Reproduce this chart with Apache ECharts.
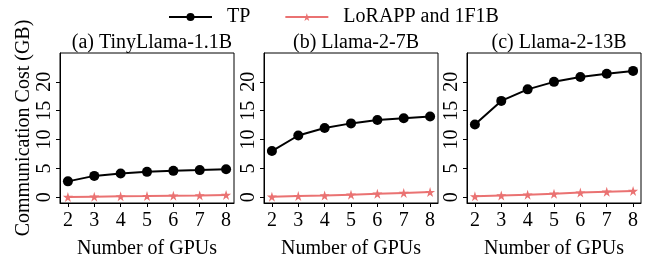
<!DOCTYPE html>
<html>
<head>
<meta charset="utf-8">
<script src="https://cdn.jsdelivr.net/npm/echarts@6/dist/echarts.min.js"></script>
<style>
html,body{margin:0;padding:0;background:#fff;}
#chart{width:652px;height:264px;}
</style>
</head>
<body>
<div id="chart"></div>
<script>
const gpuCounts = [2, 3, 4, 5, 6, 7, 8];
const panelTitles = ['(a) TinyLlama-1.1B', '(b) Llama-2-7B', '(c) Llama-2-13B'];
const tpTiny = [2.75, 3.7, 4.1, 4.4, 4.57, 4.7, 4.85];
const loraTiny = [0.05, 0.1, 0.15, 0.2, 0.27, 0.32, 0.4];
const tp7b = [8.0, 10.7, 12.0, 12.8, 13.4, 13.7, 14.0];
const lora7b = [0.1, 0.2, 0.3, 0.45, 0.6, 0.75, 0.9];
const tp13b = [12.6, 16.7, 18.7, 20.0, 20.85, 21.4, 21.9];
const lora13b = [0.15, 0.3, 0.45, 0.6, 0.8, 0.95, 1.1];
const yTicks = [0, 5, 10, 15, 20];
const seriesNames = ['TP', 'LoRAPP and 1F1B'];

const tpData = [tpTiny, tp7b, tp13b];
const loraData = [loraTiny, lora7b, lora13b];

const FONT = '"Liberation Serif", "Times New Roman", serif';
const RED = '#ea7272';
const gridLefts = [60, 264, 467];
const gridWidth = 174;

const pairs = (ys) => gpuCounts.map((x, i) => [x, ys[i]]);

const grids = [], xAxes = [], yAxes = [], series = [], titles = [];
for (let i = 0; i < 3; i++) {
  grids.push({left: gridLefts[i], top: 53, width: gridWidth, height: 152,
    show: true, borderColor: '#000', borderWidth: 1, backgroundColor: 'transparent'});
  titles.push({text: panelTitles[i], left: gridLefts[i] + gridWidth / 2, top: 28, textAlign: 'center',
    textStyle: {fontFamily: FONT, fontSize: 20, fontWeight: 'normal', color: '#000'}});
  xAxes.push({type: 'value', gridIndex: i, min: 1.7, max: 8.3,
    name: 'Number of GPUs', nameLocation: 'middle', nameGap: 36,
    nameTextStyle: {fontFamily: FONT, fontSize: 20, color: '#000'},
    axisLine: {show: true, onZero: false, lineStyle: {color: '#000', width: 1}},
    axisTick: {show: true, length: 4, customValues: gpuCounts, lineStyle: {color: '#000'}},
    axisLabel: {customValues: gpuCounts, fontFamily: FONT, fontSize: 20, color: '#000', margin: 8},
    splitLine: {show: false}});
  const y = {type: 'value', gridIndex: i, min: -1, max: 25,
    axisLine: {show: true, onZero: false, lineStyle: {color: '#000', width: 1}},
    axisTick: {show: true, length: 4, customValues: yTicks, lineStyle: {color: '#000'}},
    axisLabel: {customValues: yTicks, rotate: 90, fontFamily: FONT, fontSize: 20, color: '#000', margin: 5},
    splitLine: {show: false}};
  if (i === 0) {
    y.name = 'Communication Cost (GB)';
    y.nameLocation = 'middle';
    y.nameRotate = 90;
    y.nameGap = 22;
    y.nameTextStyle = {fontFamily: FONT, fontSize: 20, color: '#000'};
  }
  yAxes.push(y);
  series.push({name: seriesNames[0], type: 'line', xAxisIndex: i, yAxisIndex: i,
    data: pairs(tpData[i]), symbol: 'circle', symbolSize: 10,
    lineStyle: {color: '#000', width: 2}, itemStyle: {color: '#000'}, z: 3});
  series.push({name: seriesNames[1], type: 'line', xAxisIndex: i, yAxisIndex: i,
    data: pairs(loraData[i]), symbol: 'path://M50,0 L61,35 L98,35 L68,57 L79,91 L50,70 L21,91 L32,57 L2,35 L39,35 Z', symbolSize: 10,
    lineStyle: {color: RED, width: 2}, itemStyle: {color: RED}, z: 2});
}

const chart = echarts.init(document.getElementById('chart'), null, {renderer: 'canvas'});
chart.setOption({
  animation: false,
  backgroundColor: '#fff',
  title: titles,
  legend: {data: seriesNames, left: 163, top: 2, itemWidth: 43, itemHeight: 10, itemGap: 34,
    textStyle: {fontFamily: FONT, fontSize: 20, color: '#000', padding: [0, 0, 0, 10]}},
  grid: grids,
  xAxis: xAxes,
  yAxis: yAxes,
  series: series
});
</script>
</body>
</html>
